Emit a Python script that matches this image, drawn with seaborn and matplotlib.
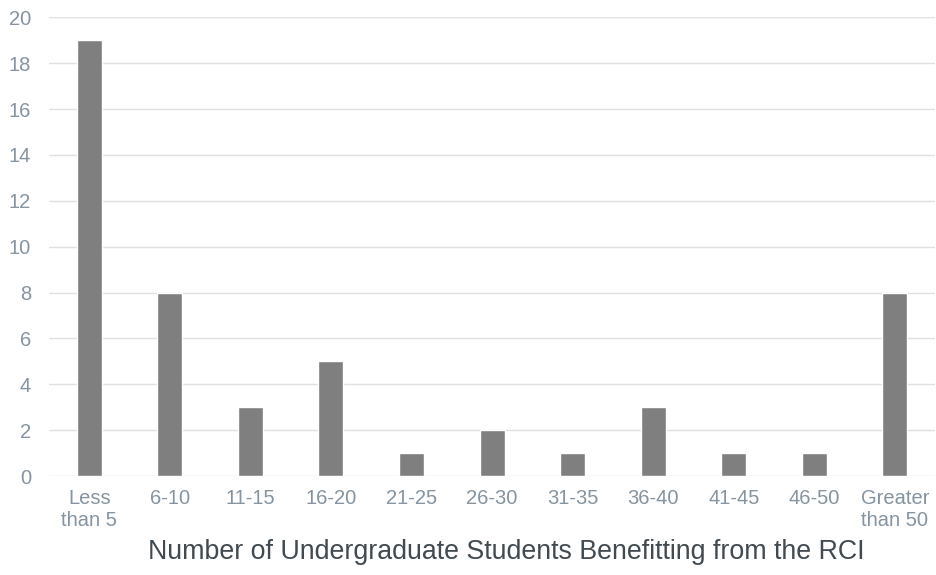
import matplotlib
matplotlib.use("Agg")
import matplotlib.pyplot as plt
import seaborn as sns
import pandas as pd

categories = ["Less\nthan 5", "6-10", "11-15", "16-20", "21-25", "26-30",
              "31-35", "36-40", "41-45", "46-50", "Greater\nthan 50"]
counts = [19, 8, 3, 5, 1, 2, 1, 3, 1, 1, 8]
yticks = [0, 2, 4, 6, 8, 10, 12, 14, 16, 18, 20]
xlabel = "Number of Undergraduate Students Benefitting from the RCI"

sns.set_theme(style="white")
plt.rcParams['font.family'] = ['Liberation Sans', 'DejaVu Sans']

df = pd.DataFrame({"cat": categories, "n": counts})

fig = plt.figure(figsize=(9.36, 5.75), dpi=100)
ax = fig.add_axes([0.0524, 0.172, 0.9466, 0.798])
sns.barplot(data=df, x="cat", y="n", color="#7f7f7f", saturation=1,
            width=0.31, ax=ax, zorder=3)
ax.set_ylim(0, 20)
ax.set_xlim(-0.5, len(categories) - 0.5)
ax.set_yticks(yticks)
ax.grid(axis="y", color="#e0e0e0", linewidth=1, zorder=0)
ax.set_axisbelow(True)
for s in ax.spines.values():
    s.set_visible(False)
tick_color = "#8594a0"
ax.tick_params(axis="both", length=0, labelsize=14.5, colors=tick_color)
ax.tick_params(axis="y", pad=13)
ax.tick_params(axis="x", pad=9)
for lbl in ax.get_xticklabels():
    lbl.set_linespacing(1.2)
ax.set_ylabel("")
ax.set_xlabel(xlabel, fontsize=19.3, color="#404a50", labelpad=4)
ax.xaxis.set_label_coords(0.516, -0.137)
ax.xaxis.label.set_va("top")
fig.savefig("out.png", dpi=100)
